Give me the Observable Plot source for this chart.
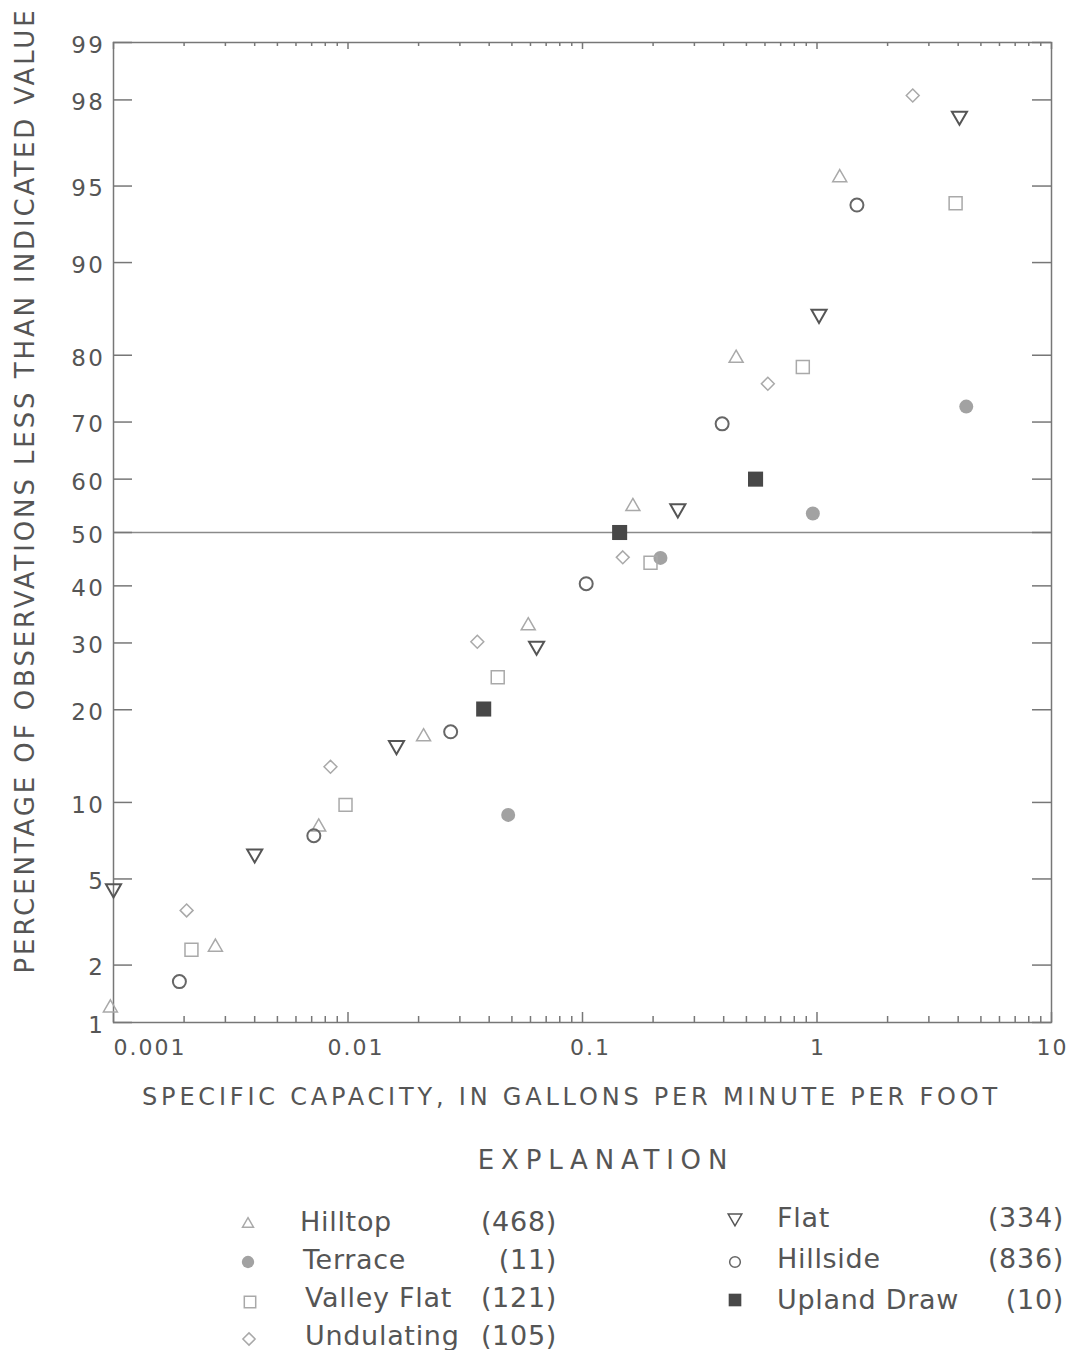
<!DOCTYPE html>
<html>
<head>
<meta charset="utf-8">
<script src="https://cdn.jsdelivr.net/npm/d3@7"></script>
<script src="https://cdn.jsdelivr.net/npm/@observablehq/plot@0.6"></script>
<style>
  body { margin: 0; background: #fff; }
  #wrap { position: relative; width: 1073px; height: 1350px; font-family: "DejaVu Sans", sans-serif; color: #555; overflow: hidden; }
  #chart { position: absolute; left: 0; top: 0; }
  g[aria-label="y-axis tick label"] text { font-size: 23px; letter-spacing: 2.5px; }
  g[aria-label="x-axis tick label"] text { font-size: 22px; letter-spacing: 2px; }
  .lg { position: absolute; white-space: nowrap; font-size: 27px; letter-spacing: 0.7px; line-height: 30px; transform: translateY(-50%); }
  .lg.right { text-align: right; transform: translate(-100%, -50%); }
  .lgsym { position: absolute; }
  #expl { position: absolute; left: 606px; top: 1160px; transform: translate(-50%, -50%); font-size: 26px; letter-spacing: 6.8px; white-space: nowrap; }
</style>
</head>
<body>
<div id="wrap"><div id="chart"></div><div id="expl">EXPLANATION</div></div>
<script>
// ---------------- data ----------------
const percentTicks = [1, 2, 5, 10, 20, 30, 40, 50, 60, 70, 80, 90, 95, 98, 99];
const capacityTicks = [0.001, 0.01, 0.1, 1, 10];
const capacityTickLabels = ["0.001", "0.01", "0.1", "1", "10"];
const yTitle = "PERCENTAGE OF OBSERVATIONS LESS THAN INDICATED VALUE";
const xTitle = "SPECIFIC CAPACITY, IN GALLONS PER MINUTE PER FOOT";
const groups = ["Hilltop", "Terrace", "Valley Flat", "Undulating", "Flat", "Hillside", "Upland Draw"];
const groupCounts = [468, 11, 121, 105, 334, 836, 10];

const hilltopCapacity = [0.00097, 0.00272, 0.0075, 0.021, 0.0587, 0.164, 0.452, 1.25];
const hilltopPercent  = [1.2, 2.45, 8.1, 16.6, 32.9, 54.9, 79.6, 95.4];
const terraceCapacity = [0.0482, 0.215, 0.96, 4.33];
const terracePercent  = [9.0, 45.2, 53.6, 72.5];
const valleyFlatCapacity = [0.00215, 0.00976, 0.0435, 0.195, 0.87, 3.9];
const valleyFlatPercent  = [2.38, 9.8, 24.6, 44.3, 78.4, 94.1];
const undulatingCapacity = [0.00205, 0.00842, 0.0356, 0.1485, 0.617, 2.56];
const undulatingPercent  = [3.64, 13.3, 30.2, 45.3, 76.0, 98.1];
const flatCapacity = [0.001, 0.004, 0.0161, 0.0637, 0.255, 1.02, 4.05];
const flatPercent  = [4.54, 6.36, 15.6, 29.5, 54.5, 85.0, 97.6];
const hillsideCapacity = [0.00191, 0.00715, 0.0274, 0.1037, 0.394, 1.48];
const hillsidePercent  = [1.65, 7.5, 17.2, 40.4, 69.7, 94.0];
const uplandDrawCapacity = [0.0379, 0.144, 0.547];
const uplandDrawPercent  = [20.1, 50, 60];

// ---------------- helpers ----------------
// inverse of the standard normal CDF (probability-paper scale)
function probit(p) {
  const a = [-3.969683028665376e+01, 2.209460984245205e+02, -2.759285104469687e+02, 1.383577518672690e+02, -3.066479806614716e+01, 2.506628277459239e+00];
  const b = [-5.447609879822406e+01, 1.615858368580409e+02, -1.556989798598866e+02, 6.680131188771972e+01, -1.328068155288572e+01];
  const c = [-7.784894002430293e-03, -3.223964580411365e-01, -2.400758277161838e+00, -2.549732539343734e+00, 4.374664141464968e+00, 2.938163982698783e+00];
  const d = [7.784695709041462e-03, 3.224671290700398e-01, 2.445134137142996e+00, 3.754408661907416e+00];
  const pl = 0.02425, ph = 1 - pl;
  let q, r;
  if (p < pl) {
    q = Math.sqrt(-2 * Math.log(p));
    return (((((c[0]*q+c[1])*q+c[2])*q+c[3])*q+c[4])*q+c[5]) / ((((d[0]*q+d[1])*q+d[2])*q+d[3])*q+1);
  }
  if (p <= ph) {
    q = p - 0.5; r = q * q;
    return (((((a[0]*r+a[1])*r+a[2])*r+a[3])*r+a[4])*r+a[5])*q / (((((b[0]*r+b[1])*r+b[2])*r+b[3])*r+b[4])*r+1);
  }
  q = Math.sqrt(-2 * Math.log(1 - p));
  return -(((((c[0]*q+c[1])*q+c[2])*q+c[3])*q+c[4])*q+c[5]) / ((((d[0]*q+d[1])*q+d[2])*q+d[3])*q+1);
}
const z = (pct) => probit(pct / 100);
const rows = (cap, pct) => cap.map((c, i) => ({capacity: c, percent: pct[i]}));

const triangleDown = {
  draw(context, size) {
    const y = Math.sqrt(size / (Math.sqrt(3) * 3));
    context.moveTo(0, 2 * y);
    context.lineTo(-Math.sqrt(3) * y, -y);
    context.lineTo(Math.sqrt(3) * y, -y);
    context.closePath();
  }
};

const LIGHT = "#a9a9a9", DARK = "#555", AXIS = "#777";

const seriesStyle = [
  {cap: hilltopCapacity, pct: hilltopPercent, symbol: "triangle", r: 5.2, stroke: LIGHT, fill: "none", sw: 1.5, lsym: d3.symbolTriangle, lsize: 52},
  {cap: terraceCapacity, pct: terracePercent, symbol: "circle", r: 7, stroke: "none", fill: "#a2a2a2", sw: 0, lsym: d3.symbolCircle, lsize: 120},
  {cap: valleyFlatCapacity, pct: valleyFlatPercent, symbol: "square", r: 7.3, stroke: LIGHT, fill: "none", sw: 1.5, lsym: d3.symbolSquare, lsize: 130},
  {cap: undulatingCapacity, pct: undulatingPercent, symbol: "diamond2", r: 5.8, stroke: LIGHT, fill: "none", sw: 1.5, lsym: d3.symbolDiamond2, lsize: 95},
  {cap: flatCapacity, pct: flatPercent, symbol: triangleDown, r: 5.6, stroke: DARK, fill: "none", sw: 2, lsym: triangleDown, lsize: 80},
  {cap: hillsideCapacity, pct: hillsidePercent, symbol: "circle", r: 6.5, stroke: "#666", fill: "none", sw: 2, lsym: d3.symbolCircle, lsize: 90},
  {cap: uplandDrawCapacity, pct: uplandDrawPercent, symbol: "square", r: 8.5, stroke: "none", fill: "#484848", sw: 0, lsym: d3.symbolSquare, lsize: 160}
];

// ---------------- chart ----------------
const W = 1073, H = 1120, mL = 113, mR = 22, mT = 42, mB = 98;
const frameW = W - mL - mR, frameH = H - mT - mB;

const isMajor = (d) => capacityTicks.some(t => Math.abs(t - d) / t < 1e-9);
const logTicks = d3.scaleLog().domain([capacityTicks[0], capacityTicks[capacityTicks.length - 1]]).ticks();
const minorTicks = logTicks.filter(d => !isMajor(d));
const capLabel = new Map(capacityTicks.map((d, i) => [d, capacityTickLabels[i]]));
const zTicks = percentTicks.map(z);
const zLabel = new Map(percentTicks.map((p, i) => [zTicks[i], String(p)]));

const plot = Plot.plot({
  width: W, height: H,
  marginLeft: mL, marginRight: mR, marginTop: mT, marginBottom: mB,
  style: {fontFamily: "DejaVu Sans, sans-serif", fontSize: "22px", color: "#555", background: "white", overflow: "visible"},
  x: {type: "log", domain: [capacityTicks[0], capacityTicks[capacityTicks.length - 1]], axis: null},
  y: {type: "linear", domain: [z(percentTicks[0]), z(percentTicks[percentTicks.length - 1])], axis: null},
  marks: [
    Plot.ruleY([50], {y: d => z(d), stroke: "#8a8a8a", strokeWidth: 1.5}),
    // inward tick marks on the four sides
    Plot.tickY(percentTicks, {y: d => z(d), insetRight: frameW - 19, stroke: AXIS, strokeWidth: 1.5}),
    Plot.tickY(percentTicks, {y: d => z(d), insetLeft: frameW - 19, stroke: AXIS, strokeWidth: 1.5}),
    Plot.tickX(minorTicks, {x: d => d, insetTop: frameH - 6, stroke: AXIS, strokeWidth: 1.5}),
    Plot.tickX(capacityTicks, {x: d => d, insetTop: frameH - 10, stroke: AXIS, strokeWidth: 1.5}),
    Plot.tickX(minorTicks, {x: d => d, insetBottom: frameH - 4, stroke: AXIS, strokeWidth: 1.5}),
    Plot.tickX(capacityTicks, {x: d => d, insetBottom: frameH - 7, stroke: AXIS, strokeWidth: 1.5}),
    Plot.frame({stroke: AXIS, strokeWidth: 1.5}),
    // axis labels
    Plot.axisY(zTicks, {anchor: "left", tickSize: 0, tickPadding: 8, dy: 3, label: null, tickFormat: d => zLabel.get(d)}),
    Plot.axisX(capacityTicks.slice(0, 1), {anchor: "bottom", tickSize: 0, tickPadding: 17, textAnchor: "start", label: null, tickFormat: d => capLabel.get(d)}),
    Plot.axisX(capacityTicks.slice(1, 3), {anchor: "bottom", tickSize: 0, tickPadding: 17, dx: 8, label: null, tickFormat: d => capLabel.get(d)}),
    Plot.axisX(capacityTicks.slice(3), {anchor: "bottom", tickSize: 0, tickPadding: 17, dx: 1, label: null, tickFormat: d => capLabel.get(d)}),
    // titles
    Plot.text([yTitle], {frameAnchor: "left", textAnchor: "middle", lineAnchor: "middle", rotate: -90, dx: -88, dy: -42, fontSize: 26}),
    Plot.text([xTitle], {frameAnchor: "bottom", textAnchor: "middle", lineAnchor: "middle", dx: -11, dy: 75, fontSize: 24}),
    // data
    ...seriesStyle.map(s => Plot.dot(rows(s.cap, s.pct), {
      x: "capacity", y: d => z(d.percent), symbol: s.symbol, r: s.r,
      stroke: s.stroke, fill: s.fill, strokeWidth: s.sw
    }))
  ]
});
// letter spacing of the two axis titles (tracked lettering, as in the original)
d3.select(plot).selectAll("text").filter(function () { return this.textContent === yTitle; }).style("letter-spacing", "2.9px");
d3.select(plot).selectAll("text").filter(function () { return this.textContent === xTitle; }).style("letter-spacing", "3.8px");
document.getElementById("chart").appendChild(plot);

// ---------------- legend ----------------
const wrap = document.getElementById("wrap");
const legendLayout = [
  {sx: 248, sy: 1224, nx: 300, cx: 557, y: 1222},
  {sx: 248, sy: 1262, nx: 303, cx: 557, y: 1260},
  {sx: 250, sy: 1302, nx: 305, cx: 557, y: 1298},
  {sx: 249, sy: 1339, nx: 305, cx: 557, y: 1336},
  {sx: 735, sy: 1218, nx: 777, cx: 1064, y: 1218},
  {sx: 735, sy: 1262, nx: 777, cx: 1064, y: 1259},
  {sx: 735, sy: 1300, nx: 777, cx: 1064, y: 1300}
];
groups.forEach((g, i) => {
  const L = legendLayout[i], s = seriesStyle[i];
  const svg = d3.create("svg").attr("class", "lgsym").attr("width", 24).attr("height", 24)
    .style("left", (L.sx - 12) + "px").style("top", (L.sy - 12) + "px");
  svg.append("path").attr("transform", "translate(12,12)")
    .attr("d", d3.symbol(s.lsym, s.lsize)())
    .attr("fill", s.fill).attr("stroke", s.stroke === "none" ? "none" : s.stroke)
    .attr("stroke-width", s.sw ? Math.min(s.sw, 1.5) : 0);
  wrap.appendChild(svg.node());
  const name = document.createElement("div");
  name.className = "lg"; name.textContent = g;
  name.style.left = L.nx + "px"; name.style.top = L.y + "px";
  wrap.appendChild(name);
  const cnt = document.createElement("div");
  cnt.className = "lg right"; cnt.textContent = "(" + groupCounts[i] + ")";
  cnt.style.left = L.cx + "px"; cnt.style.top = L.y + "px";
  wrap.appendChild(cnt);
});
</script>
</body>
</html>
